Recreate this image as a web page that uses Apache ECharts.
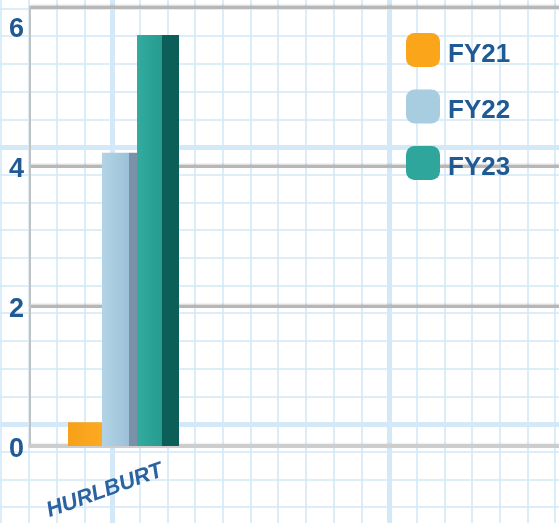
<!DOCTYPE html>
<html>
<head>
<meta charset="utf-8">
<script src="https://cdn.jsdelivr.net/npm/echarts@6/dist/echarts.min.js"></script>
<style>
  html, body { margin: 0; padding: 0; background: #ffffff; }
  #chart { width: 559px; height: 523px; }
</style>
</head>
<body>
<div id="chart"></div>
<script>
// ---- data ----
const categories = ['HURLBURT'];
const seriesNames = ['FY21', 'FY22', 'FY23'];
const fy21 = [0.34];
const fy22 = [4.19];
const fy23 = [5.87];
const yTickInterval = 2;

// ---- styles ----
const navy = '#1f5a94';
const paperLine = '#d3e9f7';
const gridGray = '#b7b7b7';
const fontFam = 'Liberation Sans, Arial, sans-serif';

function sideGradient(front1, front2, side, split) {
  return new echarts.graphic.LinearGradient(0, 0, 1, 0, [
    { offset: 0, color: front1 },
    { offset: split, color: front2 },
    { offset: split, color: side },
    { offset: 1, color: side }
  ]);
}

const chart = echarts.init(document.getElementById('chart'), null, { renderer: 'canvas' });

const option = {
  animation: false,
  backgroundColor: '#ffffff',
  grid: [
    { left: 30, top: 7, bottom: 77, right: -32, containLabel: false, outerBoundsMode: 'none' },
    { left: -165, top: -130, width: 831, height: 831, containLabel: false, outerBoundsMode: 'none' }
  ],
  legend: {
    orient: 'vertical',
    left: 406,
    top: 33,
    padding: 0,
    itemWidth: 34,
    itemHeight: 34,
    itemGap: 22,
    icon: 'roundRect',
    formatter: '{t|{name}}',
    textStyle: {
      fontSize: 26, fontWeight: 'bold', color: navy, fontFamily: fontFam,
      rich: { t: { fontSize: 26, fontWeight: 'bold', color: navy, fontFamily: fontFam, padding: [9, 0, 0, 3] } }
    },
    data: [
      { name: seriesNames[0], itemStyle: { color: '#fba51b' } },
      { name: seriesNames[1], itemStyle: { color: '#a8cce0' } },
      { name: seriesNames[2], itemStyle: { color: '#2fa69b' } }
    ]
  },
  xAxis: [
    {
      type: 'category',
      gridIndex: 0,
      data: categories,
      max: 2,
      z: 3,
      axisLine: { show: true, lineStyle: { color: '#cdcdcd', width: 4 } },
      axisTick: { show: false },
      splitLine: { show: false },
      axisLabel: {
        interval: 0,
        rotate: 20,
        align: 'center',
        margin: 38,
        padding: [0, 40, 0, 0],
        fontSize: 22,
        fontWeight: 'bold',
        fontStyle: 'italic',
        color: '#2a63a0',
        fontFamily: fontFam,
        formatter: function (v) { return v == null ? '' : v; }
      }
    },
    {
      type: 'value',
      gridIndex: 1,
      min: 0, max: 30, interval: 10,
      z: 0,
      axisLine: { show: false }, axisTick: { show: false }, axisLabel: { show: false },
      splitLine: { show: true, lineStyle: { color: paperLine, width: 5 } },
      minorTick: { show: false, splitNumber: 10 },
      minorSplitLine: { show: true, lineStyle: { color: paperLine, width: 1.6 } }
    }
  ],
  yAxis: [
    {
      type: 'value',
      gridIndex: 0,
      min: 0,
      max: 6.27,
      interval: yTickInterval,
      z: 3,
      axisLine: { show: true, lineStyle: { color: '#c2c2c2', width: 2 } },
      axisTick: { show: false },
      splitLine: {
        show: true,
        lineStyle: {
          color: [gridGray, gridGray, gridGray, 'rgba(0,0,0,0)', gridGray],
          width: 3, shadowColor: 'rgba(0,0,0,0.18)', shadowBlur: 2, shadowOffsetY: -1
        }
      },
      axisLabel: {
        showMaxLabel: false,
        margin: 6,
        formatter: '{v|{value}}',
        rich: { v: { fontSize: 27, fontWeight: 'bold', color: navy, fontFamily: fontFam, padding: [8, 0, 0, 0] } },
        fontSize: 27,
        fontWeight: 'bold',
        color: navy,
        fontFamily: fontFam
      }
    },
    {
      type: 'value',
      gridIndex: 1,
      min: 0, max: 30, interval: 10,
      z: 0,
      axisLine: { show: false }, axisTick: { show: false }, axisLabel: { show: false },
      splitLine: { show: true, lineStyle: { color: paperLine, width: 5 } },
      minorTick: { show: false, splitNumber: 10 },
      minorSplitLine: { show: true, lineStyle: { color: paperLine, width: 1.6 } }
    }
  ],
  series: [
    {
      name: seriesNames[0], type: 'bar', xAxisIndex: 0, yAxisIndex: 0,
      data: fy21, barWidth: 34, barGap: '0%', z: 4,
      itemStyle: { color: sideGradient('#f7a01a', '#fcaa22', '#fcaa22', 0.99) }
    },
    {
      name: seriesNames[1], type: 'bar', xAxisIndex: 0, yAxisIndex: 0,
      data: fy22, barWidth: 35, barGap: '0%', z: 4,
      itemStyle: { color: sideGradient('#b3d4e6', '#9cc1d8', '#7b91a7', 0.77) }
    },
    {
      name: seriesNames[2], type: 'bar', xAxisIndex: 0, yAxisIndex: 0,
      data: fy23, barWidth: 42, barGap: '0%', z: 4,
      itemStyle: { color: sideGradient('#33ab9f', '#269b8f', '#0c5f59', 0.6) }
    }
  ]
};

chart.setOption(option);
</script>
</body>
</html>
